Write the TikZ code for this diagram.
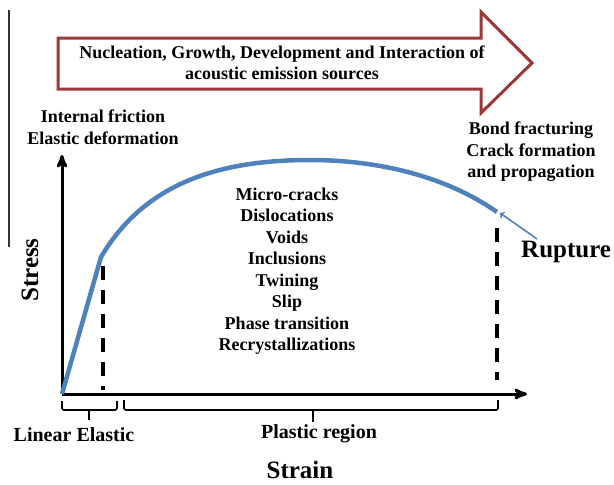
\documentclass[tikz,border=0pt]{standalone}
\usepackage{fontspec}
\setmainfont{Liberation Serif}
\usepackage{tikz}
\usetikzlibrary{positioning,arrows}
\definecolor{curveblue}{RGB}{79,129,189}
\definecolor{arrowred}{RGB}{155,55,55}
\tikzset{
  lbl_n/.style = {align=center, inner sep=0pt,
    font=\bfseries\fontsize{18}{21.5}\selectfont},
  lbl_m/.style = {lbl_n, font=\bfseries\fontsize{20}{24}\selectfont},
  lbl_big/.style = {lbl_n, font=\bfseries\fontsize{25}{30}\selectfont},% axis names
  axis_l/.style = {line width=3pt, ->, >=stealth'},
  dash_l/.style = {line width=3.5pt, dash pattern=on 14pt off 10pt},
  brace_l/.style = {line width=1.6pt, rounded corners=2pt},
  curve_l/.style = {curveblue, line width=4.5pt, line join=round}
}

\begin{document}
\begin{tikzpicture}[x=1pt,y=-1pt]
\useasboundingbox (0,0) rectangle (614,485);
% process arrow
\draw[black!80, line width=1.2pt] (9,10) -- (9,247);
\draw[arrowred, line width=3pt, line join=miter]
  (58,38) -- (481,38) -- (481,12) -- (532,63) -- (481,113) -- (481,89) -- (58,89) -- cycle;
\node [lbl_n] (sources) at (282,63) {Nucleation, Growth, Development and Interaction of\\acoustic emission sources};

% axes
\coordinate (origin) at (62,394);
\coordinate (ytop) at (62,155);
\coordinate (xend) at (527,394);
\draw[axis_l] (origin) -- (ytop);
\draw[axis_l] (origin) -- (xend);
\draw[dash_l] (103,266) -- (103,390);
\draw[dash_l] (497,228) -- (497,380);

% stress-strain curve
\coordinate (yield) at (101,257);
\coordinate (peak) at (310,160);
\coordinate (rupend) at (500,213);
\draw[curve_l] (origin) -- (yield) .. controls (141.8,188.2) and (210,160) .. (peak)
  .. controls (380,160) and (447,177) .. (497,212);

% labels
\node [lbl_n] (friction) at (103,127) {Internal friction\\Elastic deformation};
\node [lbl_n] (bond) at (531,152) {Bond fracturing\\Crack formation\\and propagation};
\node [lbl_n] (mech) at (287,271) {Micro-cracks\\Dislocations\\Voids\\Inclusions\\Twining\\Slip\\Phase transition\\Recrystallizations};
\node [lbl_big, anchor=west] (rup) at (521,252) {Rupture};
\draw[curveblue, line width=1.6pt, -to] ([xshift=16pt,yshift=2pt]rup.north west) -- (rupend);
\node [lbl_big, rotate=90] (stress) at (30,270) {Stress};
\node [lbl_big] (strain) at (300,470) {Strain};

% regions
\draw[brace_l] (62,401) -- (62,410) -- (117,410) -- (117,401);
\draw[brace_l] (89,410) -- (89,420);
\draw[brace_l] (124,400) -- (124,410) -- (498,410) -- (498,400);
\draw[brace_l] (313,410) -- (313,422);
\node [lbl_m] (linear) at (74,435) {Linear Elastic};
\node [lbl_m] (plastic) at (319,434) {Plastic region};
\end{tikzpicture}
\end{document}
